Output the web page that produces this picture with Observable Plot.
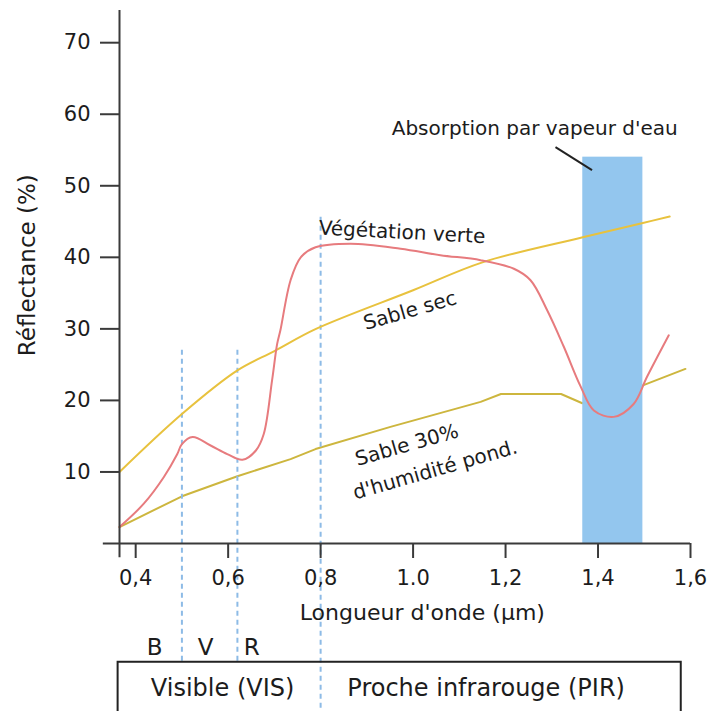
<!DOCTYPE html>
<html>
<head>
<meta charset="utf-8">
<script src="https://cdn.jsdelivr.net/npm/d3@7"></script>
<script src="https://cdn.jsdelivr.net/npm/@observablehq/plot@0.6"></script>
<style>
  html, body { margin: 0; padding: 0; background: #fff; }
  #chart svg { display: block; }
</style>
</head>
<body>
<div id="chart"></div>
<script>
// ---- data ----
const yTicks = [10, 20, 30, 40, 50, 60, 70];
const xTicks = [0.4, 0.6, 0.8, 1.0, 1.2, 1.4, 1.6];
const xTickLabels = ["0,4", "0,6", "0,8", "1.0", "1,2", "1,4", "1,6"];

// Végétation verte
const vegX = [0.365, 0.418, 0.461, 0.49, 0.5, 0.523, 0.562, 0.598, 0.631, 0.66, 0.677, 0.695, 0.706, 0.713, 0.735, 0.757, 0.789, 0.865, 0.973, 1.059, 1.146, 1.218, 1.254, 1.29, 1.326, 1.362, 1.391, 1.434, 1.477, 1.506, 1.553];
const vegY = [2.3, 5.6, 9.3, 12.5, 13.9, 14.9, 13.7, 12.5, 11.7, 13.0, 15.3, 22.8, 27.9, 29.8, 36.8, 40.0, 41.4, 41.9, 41.2, 40.3, 39.6, 38.4, 36.8, 32.6, 27.5, 22.0, 18.6, 17.7, 19.5, 23.3, 29.1];

// Sable sec
const secX = [0.365, 0.5, 0.62, 0.7, 0.79, 1.0, 1.15, 1.367, 1.497, 1.555];
const secY = [10.0, 18.1, 24.2, 26.9, 30.0, 35.4, 39.3, 42.8, 44.8, 45.7];

// Sable 30% d'humidité pondérale
const humX = [0.365, 0.5, 0.62, 0.735, 0.789, 0.951, 1.146, 1.19, 1.32, 1.366, 1.43, 1.497, 1.589];
const humY = [2.3, 6.6, 9.4, 11.8, 13.2, 16.3, 19.8, 20.9, 20.9, 19.6, 20.6, 22.1, 24.4];

// water vapour absorption band
const bandX = [1.367, 1.497];
const bandTop = 54;

// band limits (B / V / R / PIR)
const limitX = [0.5, 0.62, 0.8];
const limitTop = [27, 27, 45.6];
const limitBottom = [-16.6, -16.6, -25];

const bvrLabels = ["B", "V", "R"];
const bvrX = [0.441, 0.551, 0.651];
const domainLabels = ["Visible (VIS)", "Proche infrarouge (PIR)"];
const domainX = [0.588, 1.158];

const veg = vegX.map((x, i) => ({x, y: vegY[i]}));
const sec = secX.map((x, i) => ({x, y: secY[i]}));
const hum = humX.map((x, i) => ({x, y: humY[i]}));

const FONT = "DejaVu Sans";
const INK = "#1c1c1c";
const AXIS = "#3a3a3a";

const chart = Plot.plot({
  width: 707,
  height: 711,
  marginLeft: 119,
  marginRight: 17,
  marginTop: 10,
  marginBottom: 168,
  x: {domain: [0.365, 1.6]},
  y: {domain: [0, 74.5]},
  style: {fontFamily: FONT, fontSize: "21px", background: "#fff", color: INK},
  marks: [
    // lower sand curve (hidden behind the band)
    Plot.line(hum, {x: "x", y: "y", stroke: "#cdb63e", strokeWidth: 2}),
    // absorption band
    Plot.rect([0], {x1: bandX[0], x2: bandX[1], y1: 0, y2: bandTop, fill: "#93c6ee"}),
    // limits
    Plot.ruleX(limitX, {x: d => d, y1: (d, i) => limitTop[i], y2: (d, i) => limitBottom[i],
      stroke: "#8dbbe6", strokeWidth: 2, strokeDasharray: "5,4"}),
    // curves
    Plot.line(sec, {x: "x", y: "y", stroke: "#e8c23e", strokeWidth: 2, curve: "catmull-rom"}),
    Plot.line(veg, {x: "x", y: "y", stroke: "#e77b7e", strokeWidth: 2, curve: "catmull-rom"}),
    // axes
    Plot.ruleY([0], {x1: 0.33, x2: 1.6, stroke: AXIS, strokeWidth: 2}),
    Plot.ruleX([0.365], {y1: -2, y2: 74.5, stroke: AXIS, strokeWidth: 2}),
    Plot.axisY(yTicks, {tickSize: 19, tickPadding: 10, fontSize: 21, stroke: AXIS, strokeWidth: 2, label: null}),
    Plot.axisX(xTicks, {tickSize: 15, tickPadding: 12, fontSize: 21, stroke: AXIS, strokeWidth: 2, label: null,
      tickFormat: d => xTickLabels[xTicks.indexOf(d)]}),
    // axis titles
    Plot.text(["Longueur d'onde (µm)"], {x: 1.02, y: -9.65, text: d => d, fontSize: 22, fill: INK}),
    Plot.text(["Réflectance (%)"], {frameAnchor: "left", dx: -92, y: 38.9, text: d => d, rotate: -90,
      textAnchor: "middle", fontSize: 23, fill: INK}),
    // curve labels
    Plot.text(["Végétation verte"], {x: 0.796, y: 44.1, text: d => d, rotate: 3, textAnchor: "start", fontSize: 20, fill: INK}),
    Plot.text(["Sable sec"], {x: 0.894, y: 30.7, text: d => d, rotate: -16, textAnchor: "start", fontSize: 20, fill: INK}),
    Plot.text(["Sable 30%"], {x: 0.876, y: 11.7, text: d => d, rotate: -16, textAnchor: "start", fontSize: 20, fill: INK}),
    Plot.text(["d'humidité pond."], {x: 0.871, y: 7.0, text: d => d, rotate: -16, textAnchor: "start", fontSize: 20, fill: INK}),
    // band annotation
    Plot.text(["Absorption par vapeur d'eau"], {x: 1.263, y: 58.0, text: d => d, fontSize: 20, fill: INK}),
    Plot.link([0], {x1: 1.308, y1: 55.4, x2: 1.387, y2: 52.2, stroke: "#222", strokeWidth: 2}),
    // spectral domain box
    Plot.text(bvrLabels, {x: (d, i) => bvrX[i], y: -14.5, text: d => d, fontSize: 23, fill: INK}),
    Plot.rect([0], {x1: 0.362, x2: 1.58, y1: -16.6, y2: -24, fill: "none", stroke: "#222", strokeWidth: 2}),
    Plot.text(domainLabels, {x: (d, i) => domainX[i], y: -20.3, text: d => d, fontSize: 24, fill: INK})
  ]
});
document.getElementById("chart").appendChild(chart);
</script>
</body>
</html>
